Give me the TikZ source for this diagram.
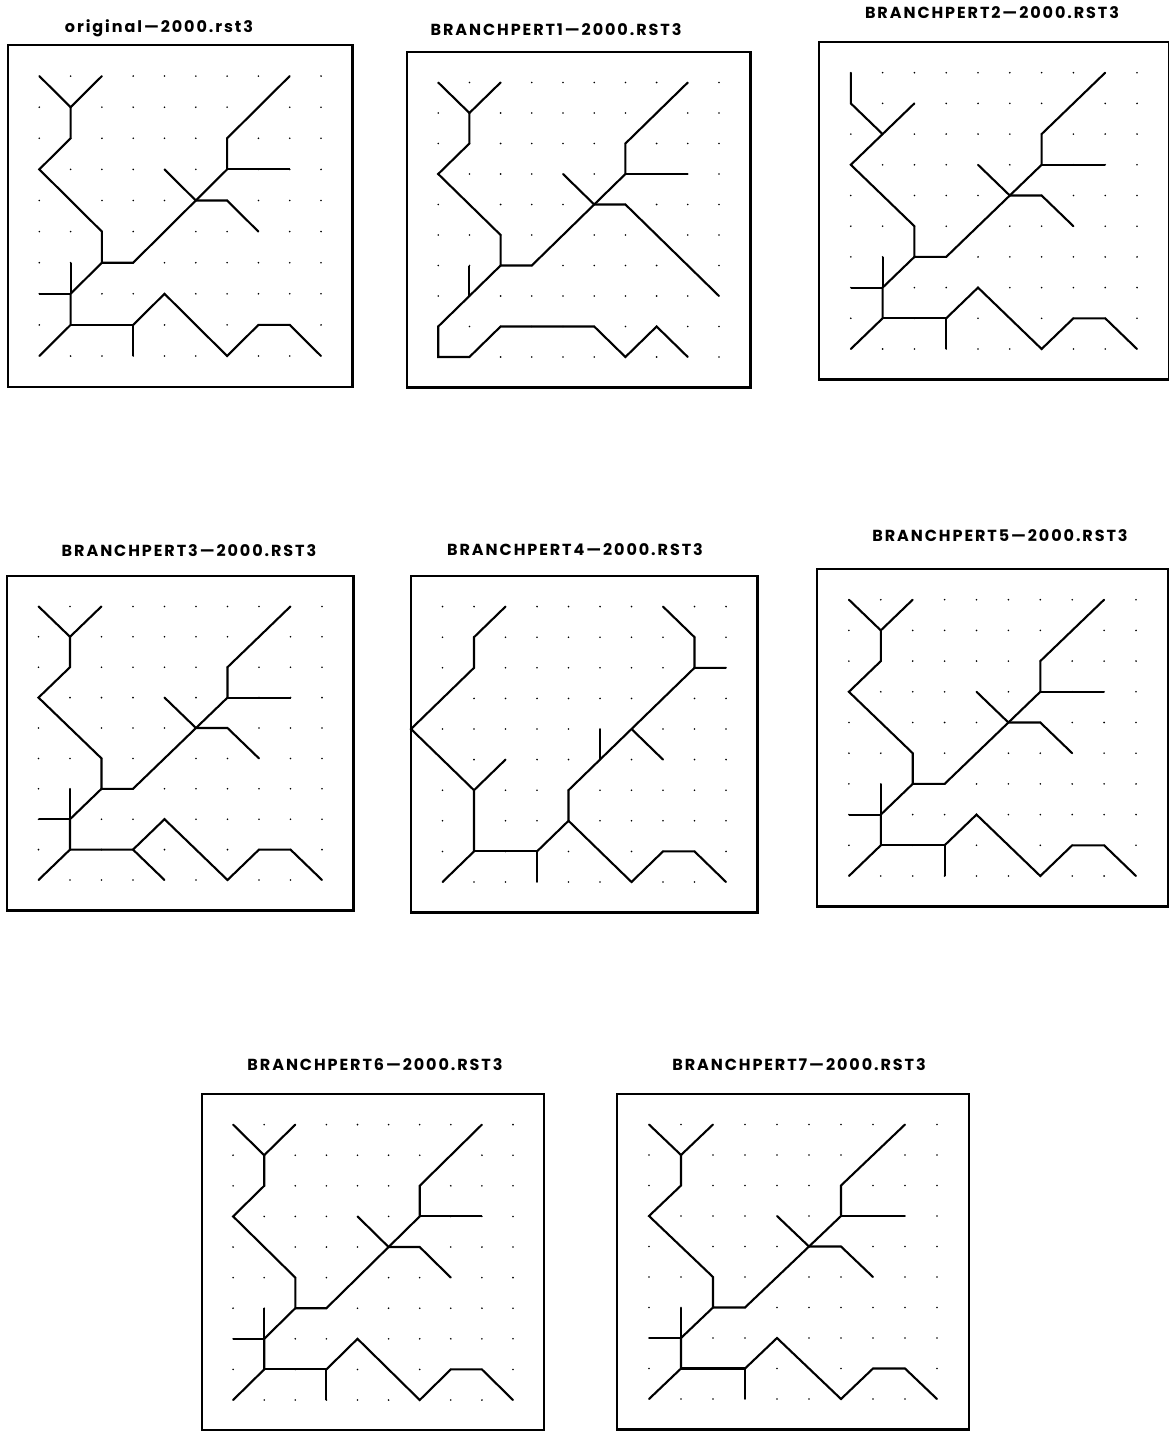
\documentclass[tikz,border=0pt]{standalone}
\usepackage{fontspec}
\newfontfamily\plotfont[LetterSpace=12]{Poppins}
\usepackage{tikz}
\tikzset{
  frame/.style={draw=black,line width=2.6pt},
  river/.style={draw=black,line width=2.1pt},
  gdot/.style={fill=black},
  ttl/.style={font=\plotfont\bfseries\fontsize{16}{16}\selectfont,inner sep=0pt},
}
% dot grid and frame of one panel, in grid units
\newcommand{\panelbase}{%
  \foreach \i in {0,...,9} \foreach \j in {0,...,9} {\fill[gdot] (\i,\j) circle (0.9pt);}
  \draw[frame] (-1,-1) rectangle (10,10);
}
% the unperturbed network
\newcommand{\orignet}{%
  \draw[river] (0,0) -- (1,1) -- (2,0);
  \draw[river] (1,1) -- (1,2) -- (0,3) -- (2,5) -- (2,6) -- (3,6) -- (5,4) -- (6,3) -- (6,2) -- (8,0);
  \draw[river] (6,3) -- (8,3);
  \draw[river] (4,3) -- (5,4) -- (6,4) -- (7,5);
  \draw[river] (2,6) -- (1,7) -- (1,8) -- (0,9);
  \draw[river] (1,6) -- (1,7);
  \draw[river] (0,7) -- (1,7);
  \draw[river] (1,8) -- (3,8) -- (3,9);
  \draw[river] (3,8) -- (4,7) -- (6,9) -- (7,8) -- (8,8) -- (9,9);
}

\begin{document}
\begin{tikzpicture}[x=1pt,y=-1pt]
  \useasboundingbox (0,0) rectangle (1168,1431);

  % titles
  \node[ttl] (t0) at (159,28) {original\textemdash2000.rst3};
  \node[ttl] (t1) at (556,30) {BRANCHPERT1\textemdash2000.RST3};
  \node[ttl] (t2) at (992,13) {BRANCHPERT2\textemdash2000.RST3};
  \node[ttl] (t3) at (189,551) {BRANCHPERT3\textemdash2000.RST3};
  \node[ttl] (t4) at (575,550) {BRANCHPERT4\textemdash2000.RST3};
  \node[ttl] (t5) at (1000,536) {BRANCHPERT5\textemdash2000.RST3};
  \node[ttl] (t6) at (375,1065) {BRANCHPERT6\textemdash2000.RST3};
  \node[ttl] (t7) at (799,1065) {BRANCHPERT7\textemdash2000.RST3};

  % original
  \begin{scope}[shift={(8,45)},x=31.3pt,y=-31.1pt,shift={(1,1)}]
    \panelbase
    \orignet
  \end{scope}

  % pert 1
  \begin{scope}[shift={(407,52)},x=31.2pt,y=-30.5pt,shift={(1,1)}]
    \panelbase
    \draw[river] (0,0) -- (1,1) -- (2,0);
    \draw[river] (1,1) -- (1,2) -- (0,3) -- (2,5) -- (2,6) -- (3,6) -- (5,4) -- (6,3) -- (6,2) -- (8,0);
    \draw[river] (6,3) -- (8,3);
    \draw[river] (4,3) -- (5,4) -- (6,4) -- (9,7);
    \draw[river] (2,6) -- (1,7) -- (0,8) -- (0,9) -- (1,9) -- (2,8) -- (5,8) -- (6,9) -- (7,8) -- (8,9);
    \draw[river] (1,6) -- (1,7);
  \end{scope}

  % pert 2
  \begin{scope}[shift={(819,42)},x=31.8pt,y=-30.7pt,shift={(1,1)}]
    \panelbase
    \draw[river] (0,0) -- (0,1) -- (1,2) -- (2,1);
    \draw[river] (1,2) -- (0,3) -- (2,5) -- (2,6) -- (3,6) -- (5,4) -- (6,3) -- (6,2) -- (8,0);
    \draw[river] (6,3) -- (8,3);
    \draw[river] (4,3) -- (5,4) -- (6,4) -- (7,5);
    \draw[river] (2,6) -- (1,7) -- (1,8) -- (0,9);
    \draw[river] (1,6) -- (1,7);
    \draw[river] (0,7) -- (1,7);
    \draw[river] (1,8) -- (3,8) -- (3,9);
    \draw[river] (3,8) -- (4,7) -- (6,9) -- (7,8) -- (8,8) -- (9,9);
  \end{scope}

  % pert 3
  \begin{scope}[shift={(7,576)},x=31.5pt,y=-30.4pt,shift={(1,1)}]
    \panelbase
    \draw[river] (0,0) -- (1,1) -- (2,0);
    \draw[river] (1,1) -- (1,2) -- (0,3) -- (2,5) -- (2,6) -- (3,6) -- (5,4) -- (6,3) -- (6,2) -- (8,0);
    \draw[river] (6,3) -- (8,3);
    \draw[river] (4,3) -- (5,4) -- (6,4) -- (7,5);
    \draw[river] (2,6) -- (1,7) -- (1,8) -- (0,9);
    \draw[river] (1,6) -- (1,7);
    \draw[river] (0,7) -- (1,7);
    \draw[river] (1,8) -- (3,8) -- (4,9);
    \draw[river] (3,8) -- (4,7) -- (6,9) -- (7,8) -- (8,8) -- (9,9);
  \end{scope}

  % pert 4
  \begin{scope}[shift={(411,576)},x=31.5pt,y=-30.6pt,shift={(1,1)}]
    \panelbase
    \draw[river] (2,0) -- (1,1) -- (1,2) -- (-1,4) -- (1,6) -- (2,5);
    \draw[river] (1,6) -- (1,8) -- (0,9);
    \draw[river] (1,8) -- (3,8) -- (3,9);
    \draw[river] (3,8) -- (4,7) -- (4,6) -- (8,2) -- (9,2);
    \draw[river] (8,2) -- (8,1) -- (7,0);
    \draw[river] (6,4) -- (7,5);
    \draw[river] (5,4) -- (5,5);
    \draw[river] (4,7) -- (6,9) -- (7,8) -- (8,8) -- (9,9);
  \end{scope}

  % pert 5
  \begin{scope}[shift={(817,569)},x=31.9pt,y=-30.7pt,shift={(1,1)}]
    \panelbase
    \orignet
  \end{scope}

  % pert 6
  \begin{scope}[shift={(202,1094)},x=31.1pt,y=-30.6pt,shift={(1,1)}]
    \panelbase
    \orignet
  \end{scope}

  % pert 7
  \begin{scope}[shift={(617,1094)},x=32pt,y=-30.5pt,shift={(1,1)}]
    \panelbase
    \orignet
  \end{scope}
\end{tikzpicture}
\end{document}
